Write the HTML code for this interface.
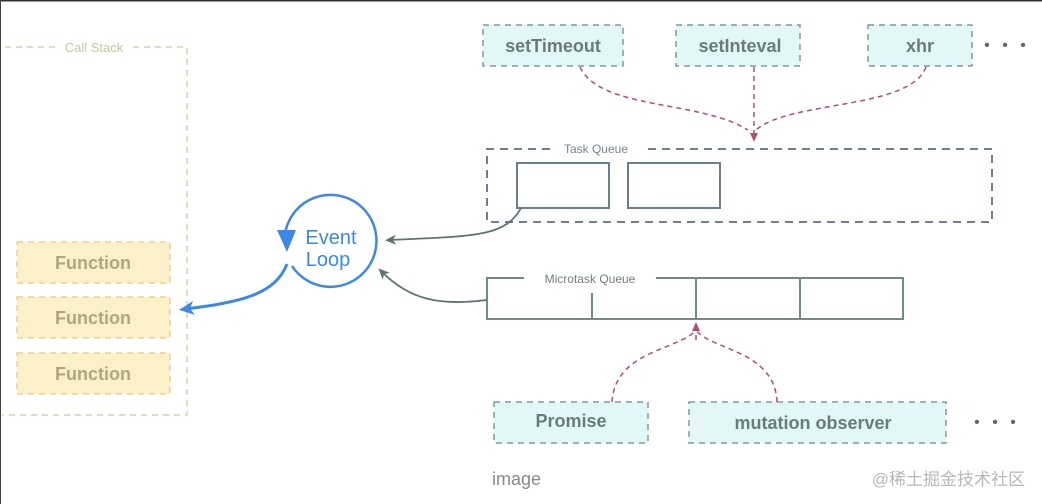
<!DOCTYPE html>
<html><head><meta charset="utf-8"><style>
html,body{margin:0;padding:0;background:#fff}
svg{display:block}
text{font-family:"Liberation Sans","Noto Sans CJK SC",sans-serif}
</style></head><body>
<svg width="1042" height="504" viewBox="0 0 1042 504" xmlns="http://www.w3.org/2000/svg">
<defs>
<marker id="red" markerWidth="10" markerHeight="10" refX="5" refY="5" orient="auto" markerUnits="userSpaceOnUse"><path d="M0,1 L9,5 L0,9 z" fill="#b0506a"/></marker>
<marker id="gray" markerWidth="12" markerHeight="12" refX="6" refY="6" orient="auto" markerUnits="userSpaceOnUse"><path d="M0,1 L11,6 L0,11 L3,6 z" fill="#5f7275"/></marker>
<marker id="blue" markerWidth="16" markerHeight="16" refX="8" refY="8" orient="auto" markerUnits="userSpaceOnUse"><path d="M0,1 L15,8 L0,15 L4,8 z" fill="#3d88e6"/></marker>
</defs>
<rect x="0" y="0" width="1042" height="504" fill="#fff"/>
<line x1="0" y1="0.5" x2="1042" y2="0.5" stroke="#333" stroke-width="2"/>
<line x1="0.5" y1="0" x2="0.5" y2="504" stroke="#444" stroke-width="1"/>

<!-- Call stack -->
<path d="M55,47 L2,47 M133,47 L187,47 L187,415 L2,415" fill="none" stroke="#d7d2a8" stroke-width="1.5" stroke-dasharray="6,5"/>
<text x="94" y="52" font-size="13" fill="#c9c69c" text-anchor="middle">Call Stack</text>
<g fill="#fbf0c8" stroke="#e2d394" stroke-width="1.5" stroke-dasharray="6,5">
<rect x="17" y="242" width="153" height="41"/>
<rect x="17" y="297" width="153" height="41"/>
<rect x="17" y="353" width="153" height="41"/>
</g>
<g font-size="18" fill="#a39a72" text-anchor="middle" font-weight="bold" opacity="0.85">
<text x="93" y="269">Function</text>
<text x="93" y="324">Function</text>
<text x="93" y="380">Function</text>
</g>

<!-- Event loop -->
<path d="M292,266 A46,46 0 1 0 285,234" fill="none" stroke="#3d88e6" stroke-width="2.5"/>
<path d="M277,230 L296,230 L287,252 z" fill="#3d88e6"/>
<text x="331" y="244" font-size="20" fill="#3d88e6" text-anchor="middle">Event</text>
<text x="328" y="266" font-size="20" fill="#3d88e6" text-anchor="middle">Loop</text>
<path d="M287,264 C275,295 240,302 186,309" fill="none" stroke="#3d88e6" stroke-width="3" marker-end="url(#blue)"/>

<!-- top sources -->
<g fill="#e3f7f8" stroke="#7c9c9a" stroke-width="1.5" stroke-dasharray="6,5">
<rect x="483" y="25" width="140" height="41"/>
<rect x="676" y="25" width="124" height="41"/>
<rect x="868" y="25" width="104" height="41"/>
<rect x="494" y="402" width="154" height="41"/>
<rect x="689" y="402" width="257" height="41"/>
</g>
<g font-size="18" fill="#5d6e70" text-anchor="middle" font-weight="bold" opacity="0.9">
<text x="553" y="52">setTimeout</text>
<text x="740" y="52">setInteval</text>
<text x="920" y="52">xhr</text>
<text x="571" y="427">Promise</text>
<text x="813" y="429">mutation observer</text>
</g>
<g font-size="16" fill="#666" text-anchor="middle">
<text x="1007" y="50" letter-spacing="4">• • •</text>
<text x="997" y="427" letter-spacing="4">• • •</text>
</g>

<!-- red dashed -->
<g fill="none" stroke="#b0506a" stroke-width="1.5" stroke-dasharray="5,4">
<path d="M580,67 C600,110 700,100 748,130"/>
<path d="M754,67 L754,138" marker-end="url(#red)"/>
<path d="M926,67 C910,110 790,100 756,130"/>
<path d="M612,402 C615,350 680,350 696,330"/>
<path d="M777,402 C775,350 710,350 696,330"/>
<path d="M696,340 L696,326" marker-end="url(#red)"/>
</g>

<!-- Task queue -->
<path d="M550,149 L487,149 L487,222 L992,222 L992,149 L643,149" fill="none" stroke="#707e8f" stroke-width="2" stroke-dasharray="8,6"/>
<text x="596" y="153" font-size="12" fill="#7a8590" text-anchor="middle">Task Queue</text>
<g fill="#fff" stroke="#6e7d8e" stroke-width="2">
<rect x="517" y="163" width="92" height="45"/>
<rect x="628" y="163" width="92" height="45"/>
</g>

<!-- Microtask queue -->
<path d="M524,278 L487,278 L487,319 L903,319 L903,278 L656,278 M592,293 L592,319 M696,278 L696,319 M800,278 L800,319" fill="none" stroke="#6f8b88" stroke-width="2"/>
<text x="590" y="283" font-size="12" fill="#6f7f80" text-anchor="middle">Microtask Queue</text>

<!-- gray arrows -->
<path d="M521,208 C505,238 470,236 390,240" fill="none" stroke="#5f7275" stroke-width="1.8" marker-end="url(#gray)"/>
<path d="M487,300 C440,306 410,300 382,272" fill="none" stroke="#5f7275" stroke-width="1.8" marker-end="url(#gray)"/>

<text x="492" y="485" font-size="18" fill="#8a8a8a">image</text>
<text x="1025" y="485" font-size="17" fill="#b8b8b8" text-anchor="end">@稀土掘金技术社区</text>
</svg>
</body></html>
